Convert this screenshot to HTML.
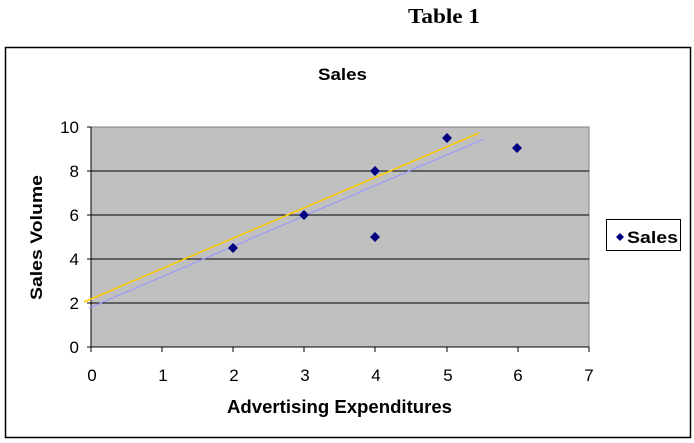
<!DOCTYPE html>
<html><head><meta charset="utf-8"><style>
html,body{margin:0;padding:0;background:#fff;width:694px;height:443px;overflow:hidden}
</style></head><body>
<svg width="694" height="443" xmlns="http://www.w3.org/2000/svg" font-family="Liberation Sans, sans-serif">
<text x="408" y="23" font-family="Liberation Serif, serif" font-weight="bold" font-size="21" textLength="72" lengthAdjust="spacingAndGlyphs">Table 1</text>
<rect x="5.5" y="47.5" width="685" height="390" fill="#fff" stroke="#000" stroke-width="1.5"/>
<text x="318" y="80" font-weight="bold" font-size="17" textLength="49" lengthAdjust="spacingAndGlyphs">Sales</text>
<rect x="91" y="127" width="498" height="220" fill="#c0c0c0" stroke="#808080"/>
<g stroke="#000" stroke-width="1">
<line x1="91" y1="171" x2="589" y2="171"/>
<line x1="91" y1="215" x2="589" y2="215"/>
<line x1="91" y1="259" x2="589" y2="259"/>
<line x1="91" y1="303" x2="589" y2="303"/>
<line x1="91" y1="347" x2="589" y2="347"/>
<line x1="91" y1="127" x2="91" y2="347"/>
<g>
<line x1="87" y1="127" x2="91" y2="127"/><line x1="87" y1="171" x2="91" y2="171"/><line x1="87" y1="215" x2="91" y2="215"/><line x1="87" y1="259" x2="91" y2="259"/><line x1="87" y1="303" x2="91" y2="303"/><line x1="87" y1="347" x2="91" y2="347"/>
<line x1="91" y1="347" x2="91" y2="352"/><line x1="162" y1="347" x2="162" y2="352"/><line x1="233" y1="347" x2="233" y2="352"/><line x1="304" y1="347" x2="304" y2="352"/><line x1="375" y1="347" x2="375" y2="352"/><line x1="447" y1="347" x2="447" y2="352"/><line x1="518" y1="347" x2="518" y2="352"/><line x1="589" y1="347" x2="589" y2="352"/>
</g></g>
<g font-size="17" text-anchor="end">
<text x="79" y="133">10</text><text x="79" y="177">8</text><text x="79" y="221">6</text><text x="79" y="265">4</text><text x="79" y="309">2</text><text x="79" y="353">0</text>
</g>
<g font-size="17" text-anchor="middle">
<text x="92" y="381">0</text><text x="163" y="381">1</text><text x="234" y="381">2</text><text x="305" y="381">3</text><text x="376" y="381">4</text><text x="448" y="381">5</text><text x="518" y="381">6</text><text x="589" y="381">7</text>
</g>
<text x="227" y="413" font-weight="bold" font-size="18" textLength="225" lengthAdjust="spacingAndGlyphs">Advertising Expenditures</text>
<text transform="translate(42,300) rotate(-90)" font-weight="bold" font-size="17" textLength="125" lengthAdjust="spacingAndGlyphs">Sales Volume</text>
<line x1="89" y1="308" x2="484" y2="139" stroke="#9999ff" stroke-width="1.2"/>
<line x1="84" y1="302" x2="479" y2="133" stroke="#ffcc00" stroke-width="1.5"/>
<g fill="#000080">
<path d="M233 243l5 5-5 5-5-5z"/>
<path d="M304 210l5 5-5 5-5-5z"/>
<path d="M375 166l5 5-5 5-5-5z"/>
<path d="M375 232l5 5-5 5-5-5z"/>
<path d="M447 133l5 5-5 5-5-5z"/>
<path d="M517 143l5 5-5 5-5-5z"/>
</g>
<rect x="606.5" y="219.5" width="74" height="31" fill="#fff" stroke="#000"/>
<path d="M620 233l4 4-4 4-4-4z" fill="#000080"/>
<text x="627" y="243" font-weight="bold" font-size="17" textLength="51" lengthAdjust="spacingAndGlyphs">Sales</text>
</svg>
</body></html>
